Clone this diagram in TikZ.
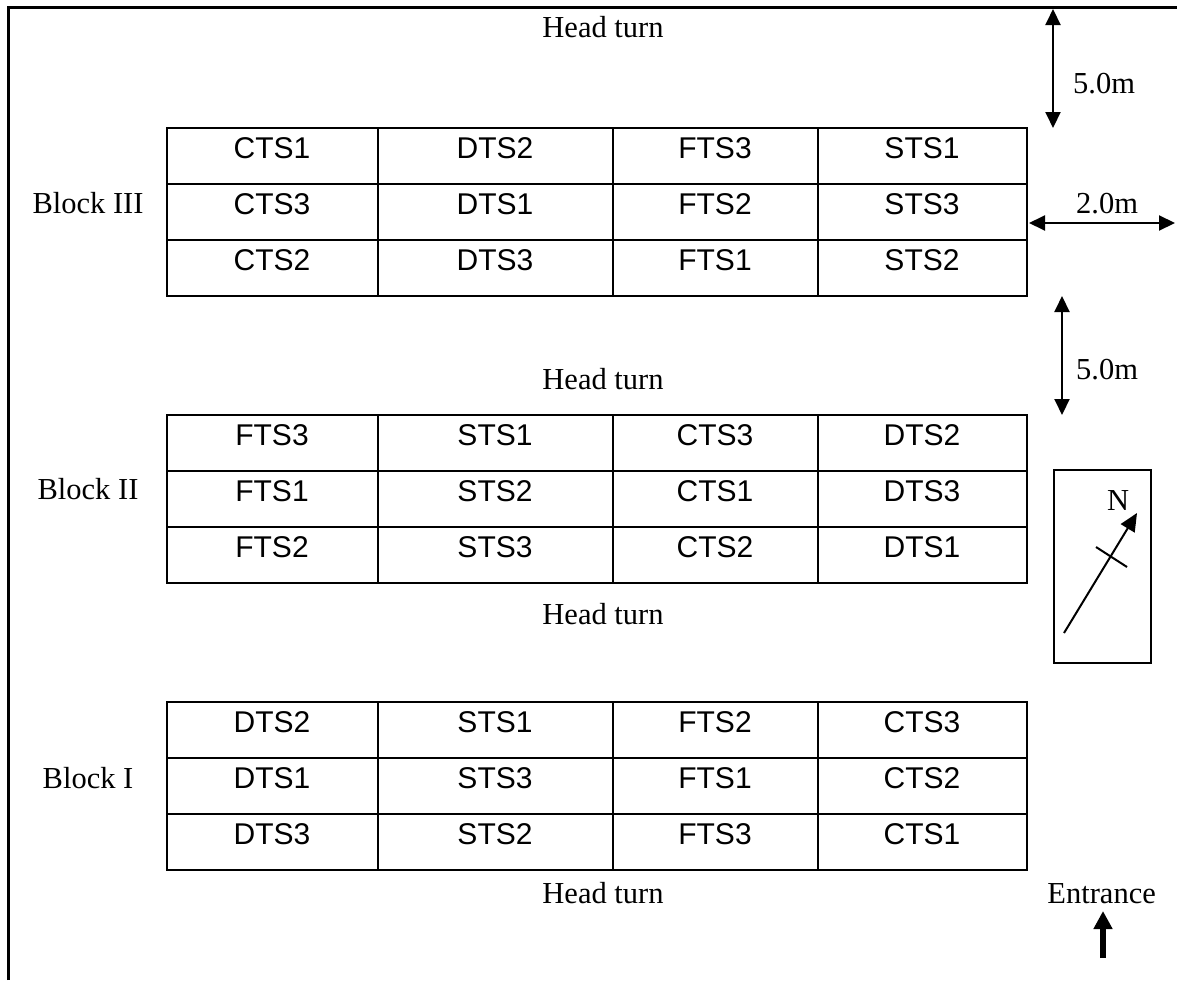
\documentclass[tikz,border=0pt]{standalone}
\usepackage{fontspec}
\setmainfont{Liberation Serif}
\newfontfamily\arialfont{Liberation Sans}
\usetikzlibrary{arrows.meta}
\newcommand\plotrow[6]{%
  \node[cell] (#2a) at (272,{#1+30}) {#3};
  \node[cell] (#2b) at (495,{#1+30}) {#4};
  \node[cell] (#2c) at (715,{#1+30}) {#5};
  \node[cell] (#2d) at (922,{#1+30}) {#6};
}
\newcommand\plotgrid[1]{%
  \draw[gridline] (167,#1) rectangle (1027,{#1+168});
  \foreach \xx in {378,613,818} \draw[gridline] (\xx,#1) -- (\xx,{#1+168});
  \foreach \yy in {56,112} \draw[gridline] (167,{#1+\yy}) -- (1027,{#1+\yy});
}
\begin{document}
\begin{tikzpicture}[x=1pt,y=-1pt,
  lbl/.style={font=\fontsize{30.5}{36}\selectfont, anchor=base, inner sep=0pt},
  cell/.style={font=\arialfont\fontsize{30}{36}\selectfont, anchor=base, inner sep=0pt},
  gridline/.style={line width=2pt},
  dim/.style={line width=2pt, {Triangle[width=15pt,length=16pt]}-{Triangle[width=15pt,length=16pt]}},
]
\useasboundingbox (0,0) rectangle (1177,980);
\draw[line width=3pt] (8,980) -- (8,7) -- (1177,7);

% Block III
\plotgrid{128}
\plotrow{128}{c1}{CTS1}{DTS2}{FTS3}{STS1}
\plotrow{184}{c2}{CTS3}{DTS1}{FTS2}{STS3}
\plotrow{240}{c3}{CTS2}{DTS3}{FTS1}{STS2}
% Block II
\plotgrid{415}
\plotrow{415}{b1}{FTS3}{STS1}{CTS3}{DTS2}
\plotrow{471}{b2}{FTS1}{STS2}{CTS1}{DTS3}
\plotrow{527}{b3}{FTS2}{STS3}{CTS2}{DTS1}
% Block I
\plotgrid{702}
\plotrow{702}{a1}{DTS2}{STS1}{FTS2}{CTS3}
\plotrow{758}{a2}{DTS1}{STS3}{FTS1}{CTS2}
\plotrow{814}{a3}{DTS3}{STS2}{FTS3}{CTS1}

% labels
\node[lbl] (h1) at (603,37) {Head turn};
\node[lbl] (h2) at (603,389) {Head turn};
\node[lbl] (h3) at (603,624) {Head turn};
\node[lbl] (h4) at (603,903) {Head turn};
\node[lbl] (bl3) at (88,213) {Block III};
\node[lbl] (bl2) at (88,499) {Block II};
\node[lbl] (bl1) at (88,788) {Block I};
\node[lbl, anchor=base east] (ent) at (1156,903) {Entrance};

% dimensions
\coordinate (d1a) at (1053,9);
\coordinate (d1b) at (1053,128);
\draw[dim] (d1a) -- (d1b);
\node[lbl, anchor=base west] (m1) at (1073,93) {5.0m};
\coordinate (d2a) at (1029,223);
\coordinate (d2b) at (1175,223);
\draw[dim] (d2a) -- (d2b);
\node[lbl, anchor=base west] (m2) at (1076,213) {2.0m};
\coordinate (d3a) at (1062,296);
\coordinate (d3b) at (1062,415);
\draw[dim] (d3a) -- (d3b);
\node[lbl, anchor=base west] (m3) at (1076,379) {5.0m};

% compass
\draw[line width=2pt] (1054,470) rectangle (1151,663);
\coordinate (na) at (1064,633);
\coordinate (nb) at (1137,513);
\draw[line width=2pt, -{Triangle[width=16pt,length=18pt]}] (na) -- (nb);
\coordinate (ca) at (1096,547);
\coordinate (cb) at (1127,567);
\draw[line width=2pt] (ca) -- (cb);
\node[lbl] (north) at (1118,510) {N};

% entrance arrow
\coordinate (ea) at (1103,958);
\coordinate (eb) at (1103,911);
\draw[line width=6pt, -{Triangle[width=18pt,length=18pt]}] (ea) -- (eb);
\end{tikzpicture}
\end{document}
